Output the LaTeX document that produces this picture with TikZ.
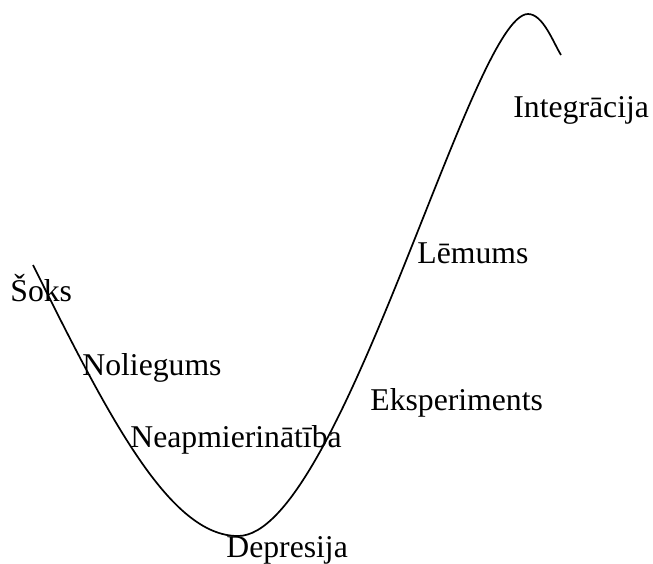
\documentclass[tikz,border=0pt]{standalone}
\usepackage{fontspec}
\setmainfont{Liberation Serif}
\usepackage{tikz}
\usetikzlibrary{positioning}

\begin{document}
\begin{tikzpicture}[x=0.5pt, y=-0.5pt, stage/.style={anchor=base west, inner sep=0pt, font=\fontsize{15.85}{19}\selectfont}]
    \useasboundingbox (0,0) rectangle (653,563);

    % change curve
    \coordinate (start) at (33,265);
    \coordinate (bottom) at (238,536);
    \coordinate (top) at (528,14);
    \coordinate (end) at (561,55);
    \draw[line width=0.85pt] (start) .. controls (110,420) and (170,536) .. (bottom)
        .. controls (340,536) and (472,14) .. (top)
        .. controls (543,14) and (553,42) .. (end);

    \node[stage] (soks) at (10,301) {Šoks};
    \node[stage] (noliegums) at (82,375) {Noliegums};
    \node[stage] (neapm) at (130,447) {Neapmierinātība};
    \node[stage] (depresija) at (226,557) {Depresija};
    \node[stage] (eksp) at (370,410) {Eksperiments};
    \node[stage] (lemums) at (417,263) {Lēmums};
    \node[stage] (integr) at (513,117) {Integrācija};
\end{tikzpicture}
\end{document}
